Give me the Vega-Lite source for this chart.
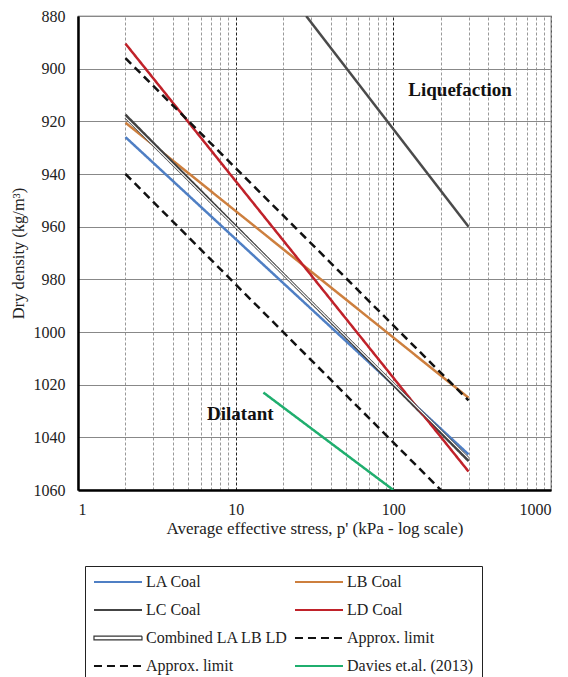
{
  "$schema": "https://vega.github.io/schema/vega-lite/v6.json",
  "autosize": {"type": "none"},
  "width": 473,
  "height": 474,
  "padding": {"left": 78, "top": 16, "right": 17, "bottom": 187},
  "background": "white",
  "config": {
    "font": "Liberation Serif",
    "view": {"stroke": "#444", "strokeWidth": 1.2},
    "axis": {"labelFont": "Liberation Serif", "titleFont": "Liberation Serif", "labelFontSize": 16, "titleFontSize": 16.5, "titleFontWeight": "normal", "labelColor": "#222", "titleColor": "#222"},
    "legend": {"labelFont": "Liberation Serif"}
  },
  "datasets": {
    "lines": [
      {"series": "LA Coal", "p": 2, "density": 926},
      {"series": "LA Coal", "p": 300, "density": 1046.5},
      {"series": "LB Coal", "p": 2, "density": 920.5},
      {"series": "LB Coal", "p": 300, "density": 1025},
      {"series": "LC Coal", "p": 2, "density": 917.5},
      {"series": "LC Coal", "p": 300, "density": 1049},
      {"series": "LD Coal", "p": 2, "density": 890.5},
      {"series": "LD Coal", "p": 300, "density": 1053},
      {"series": "Combined LA LB LD", "p": 2, "density": 918.5},
      {"series": "Combined LA LB LD", "p": 300, "density": 1048},
      {"series": "Approx. limit (upper)", "p": 2, "density": 896},
      {"series": "Approx. limit (upper)", "p": 300, "density": 1026},
      {"series": "Approx. limit (lower)", "p": 2, "density": 940},
      {"series": "Approx. limit (lower)", "p": 200, "density": 1060},
      {"series": "Davies et.al. (2013)", "p": 15, "density": 1023},
      {"series": "Davies et.al. (2013)", "p": 100, "density": 1060}
    ],
    "liq": [
      {"p": 28, "density": 880},
      {"p": 300, "density": 960}
    ],
    "notes": [
      {"p": 265, "density": 908, "text": "Liquefaction"},
      {"p": 10.7, "density": 1031, "text": "Dilatant"}
    ]
  },
  "encoding": {
    "x": {
      "field": "p", "type": "quantitative",
      "scale": {"type": "log", "domain": [1, 1000], "nice": false},
      "axis": {
        "title": "Average effective stress, p' (kPa - log scale)",
        "titleFontSize": 17,
        "values": [1,2,3,4,5,6,7,8,9,10,20,30,40,50,60,70,80,90,100,200,300,400,500,600,700,800,900,1000],
        "labelExpr": "indexof([1,10,100,1000], datum.value) >= 0 ? datum.value : ''",
        "ticks": false,
        "labelPadding": 11,
        "titlePadding": 3,
        "domainColor": "black", "domainWidth": 2.5,
        "grid": true,
        "gridDash": [3, 2],
        "gridColor": {"condition": {"test": "indexof([10,100], datum.value) >= 0", "value": "#222"}, "value": "#999"},
        "gridWidth": 1
      }
    },
    "y": {
      "field": "density", "type": "quantitative",
      "scale": {"domain": [880, 1060], "reverse": true, "nice": false, "zero": false},
      "axis": {
        "title": "Dry density (kg/m³)",
        "format": "d",
        "values": [880, 900, 920, 940, 960, 980, 1000, 1020, 1040, 1060],
        "ticks": false,
        "labelPadding": 13,
        "titlePadding": 7,
        "domainColor": "black", "domainWidth": 2.5,
        "grid": true, "gridColor": "#888", "gridWidth": 1
      }
    }
  },
  "layer": [
    {
      "data": {"name": "liq"},
      "mark": {"type": "line", "color": "#4a4a4a", "strokeWidth": 2.5, "clip": true},
      "encoding": {}
    },
    {
      "data": {"name": "lines"},
      "mark": {"type": "line", "strokeWidth": 2.5, "clip": true},
      "encoding": {
        "detail": {"field": "series"},
        "strokeWidth": {
          "condition": {"test": "datum.series === 'Combined LA LB LD'", "value": 4.5},
          "value": 2.5
        },
        "color": {
          "field": "series", "type": "nominal",
          "scale": {
            "domain": ["LA Coal", "LB Coal", "LC Coal", "LD Coal", "Combined LA LB LD", "Approx. limit (upper)", "Approx. limit (lower)", "Davies et.al. (2013)"],
            "range": ["#4f7fc4", "#cd7f3e", "#444444", "#c0222a", "#333333", "#111111", "#111111", "#1fae6e"]
          },
          "legend": {
            "title": null,
            "orient": "none",
            "legendX": 7,
            "legendY": 550,
            "columns": 2,
            "direction": "horizontal",
            "symbolSize": 144,
            "symbolStrokeWidth": 2.2,
            "labelFont": "Liberation Serif",
            "labelFontSize": 16,
            "labelColor": "#222",
            "labelOffset": 37,
            "labelLimit": 300,
            "rowPadding": 12,
            "columnPadding": 2,
            "gridAlign": "each",
            "strokeColor": "#222",
            "padding": 8,
            "labelExpr": "indexof(datum.label, 'Approx') >= 0 ? 'Approx. limit' : datum.label",
            "encode": {
              "symbols": {
                "update": {
                  "shape": {"signal": "datum.value === 'Combined LA LB LD' ? 'M-1.17,-0.3H6.83V0.3H-1.17Z' : 'M-1.17,0H6.83'"},
                  "fill": {"signal": "datum.value === 'Combined LA LB LD' ? 'white' : 'transparent'"},
                  "strokeWidth": {"signal": "datum.value === 'Combined LA LB LD' ? 1.2 : 2.2"},
                  "strokeDash": {"signal": "indexof(datum.value, 'Approx') >= 0 ? [8, 5] : [1, 0]"}
                }
              }
            }
          }
        },
        "strokeDash": {
          "field": "series", "type": "nominal",
          "scale": {
            "domain": ["LA Coal", "LB Coal", "LC Coal", "LD Coal", "Combined LA LB LD", "Approx. limit (upper)", "Approx. limit (lower)", "Davies et.al. (2013)"],
            "range": [[1, 0], [1, 0], [1, 0], [1, 0], [1, 0], [8, 5], [8, 5], [1, 0]]
          },
          "legend": null
        }
      }
    },
    {
      "data": {"name": "lines"},
      "transform": [{"filter": "datum.series === 'Combined LA LB LD'"}],
      "mark": {"type": "line", "color": "white", "strokeWidth": 1.3, "clip": true},
      "encoding": {}
    },
    {
      "data": {"name": "notes"},
      "mark": {"type": "text", "font": "Liberation Serif", "fontSize": 19, "fontWeight": "bold", "color": "#111"},
      "encoding": {"text": {"field": "text"}}
    }
  ]
}
